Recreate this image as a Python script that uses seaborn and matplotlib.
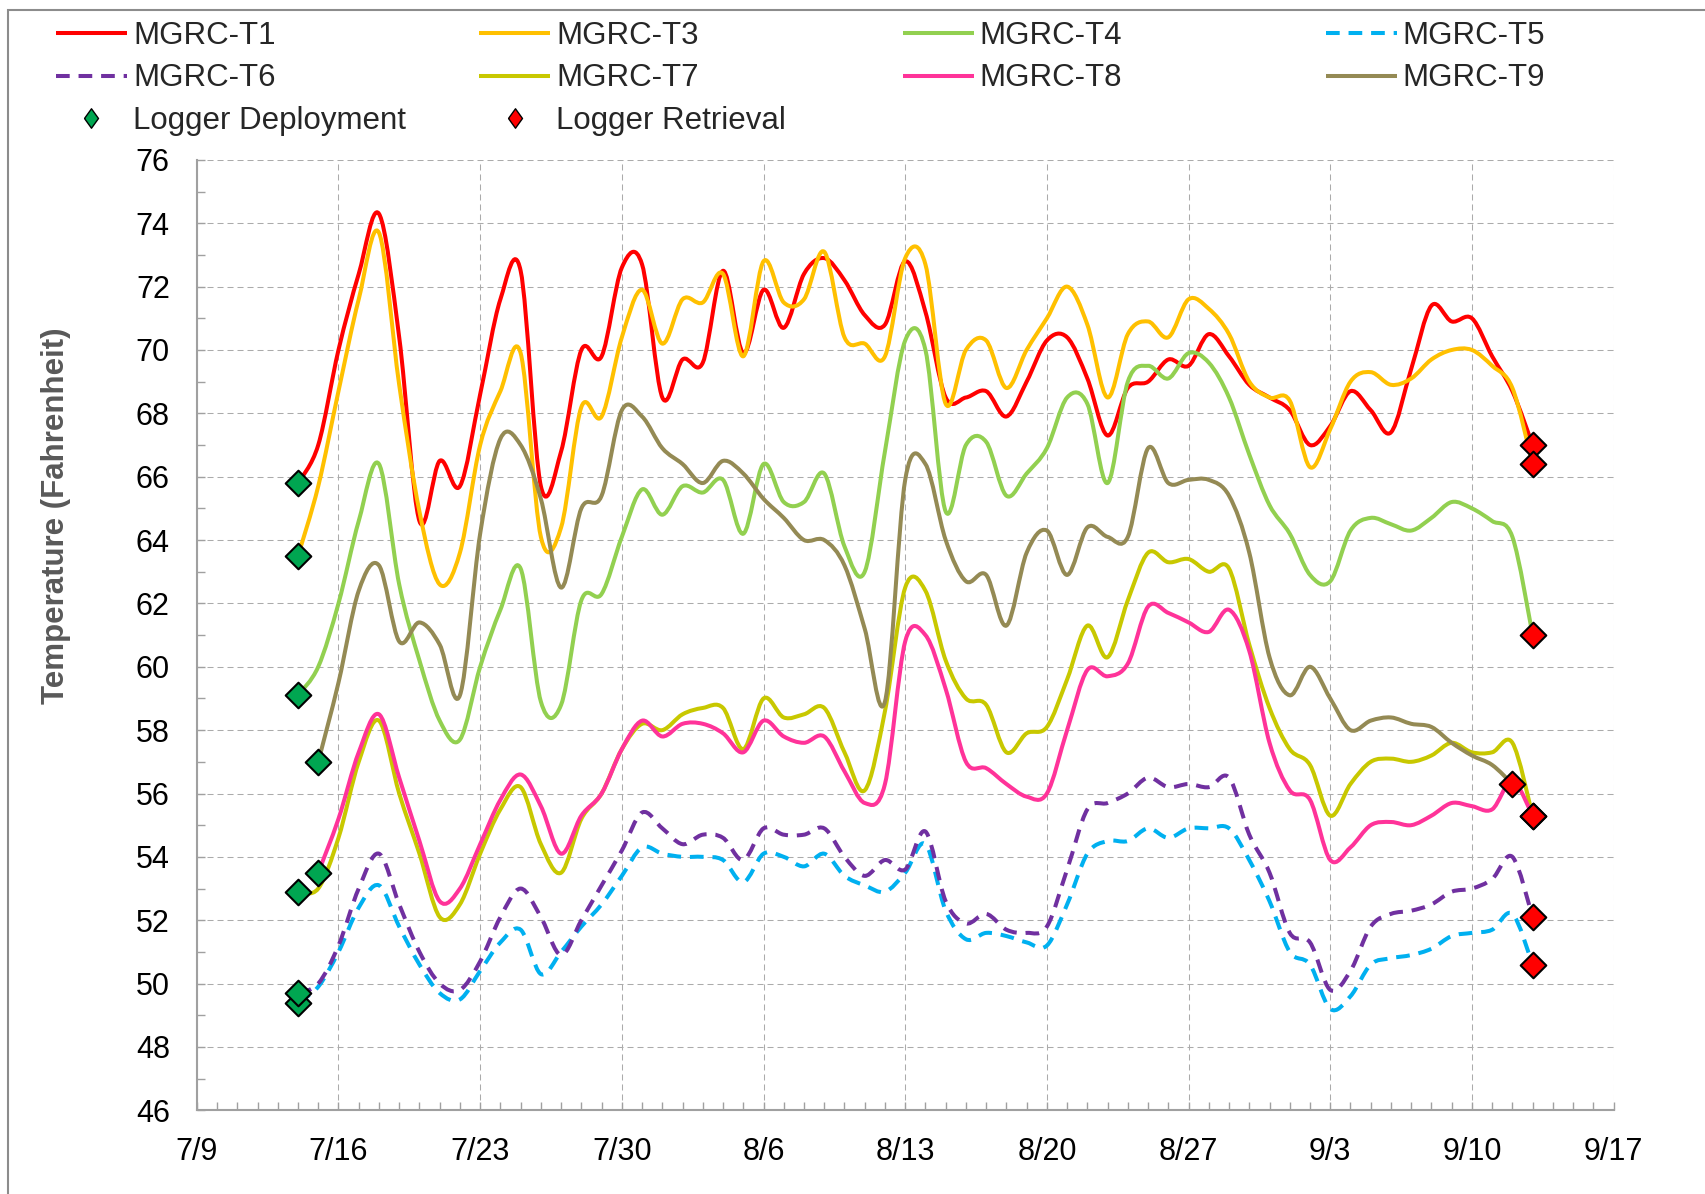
import numpy as np
import pandas as pd
import matplotlib
matplotlib.use("Agg")
import matplotlib.pyplot as plt
import matplotlib.dates as mdates
from matplotlib.path import Path
from matplotlib.patches import PathPatch, Rectangle
from matplotlib.lines import Line2D
from matplotlib.ticker import MultipleLocator
import seaborn as sns

# ---------------- data: daily mean stream temperature (deg F) ----------------
series_names = ["MGRC-T1", "MGRC-T3", "MGRC-T4", "MGRC-T5",
                "MGRC-T6", "MGRC-T7", "MGRC-T8", "MGRC-T9"]
start_dates = ["2019-07-14", "2019-07-14", "2019-07-14", "2019-07-14",
               "2019-07-14", "2019-07-14", "2019-07-15", "2019-07-15"]

t1 = [65.8, 67.0, 70.0, 72.4, 74.3, 70.4, 64.6, 66.5, 65.7, 68.6,
      71.6, 72.5, 65.7, 66.8, 70.0, 69.8, 72.6, 72.7, 68.5, 69.7,
      69.6, 72.5, 69.9, 71.9, 70.7, 72.4, 72.9, 72.2, 71.1, 70.8,
      72.8, 71.2, 68.5, 68.5, 68.7, 67.9, 69.0, 70.3, 70.4, 69.1,
      67.3, 68.8, 69.0, 69.7, 69.5, 70.5, 69.8, 68.9, 68.5, 68.1,
      67.0, 67.6, 68.7, 68.1, 67.4, 69.4, 71.4, 70.9, 71.0, 69.8,
      68.7, 67.0]
t3 = [63.5, 65.7, 68.7, 71.6, 73.7, 68.9, 64.9, 62.6, 63.6, 67.0,
      68.7, 69.9, 64.1, 64.4, 68.2, 67.9, 70.4, 71.9, 70.2, 71.6,
      71.5, 72.4, 69.8, 72.8, 71.5, 71.6, 73.1, 70.4, 70.2, 69.8,
      72.9, 72.7, 68.3, 70.0, 70.3, 68.8, 70.0, 71.0, 72.0, 70.8,
      68.5, 70.5, 70.9, 70.4, 71.6, 71.3, 70.5, 69.0, 68.5, 68.4,
      66.3, 67.5, 69.0, 69.3, 68.9, 69.1, 69.7, 70.0, 70.0, 69.5,
      68.8, 66.4]
t4 = [59.1, 60.0, 62.0, 64.6, 66.4, 62.6, 60.2, 58.3, 57.7, 60.0,
      61.8, 63.1, 58.9, 58.8, 62.1, 62.3, 64.1, 65.6, 64.8, 65.7,
      65.5, 65.9, 64.2, 66.4, 65.2, 65.2, 66.1, 63.8, 63.0, 66.8,
      70.3, 70.0, 64.9, 67.0, 67.1, 65.4, 66.1, 66.9, 68.5, 68.3,
      65.8, 69.0, 69.5, 69.1, 69.9, 69.6, 68.5, 66.7, 65.1, 64.2,
      62.9, 62.7, 64.3, 64.7, 64.5, 64.3, 64.7, 65.2, 65.0, 64.6,
      64.1, 61.0]
t5 = [49.4, 49.9, 51.0, 52.4, 53.1, 51.8, 50.6, 49.7, 49.5, 50.4,
      51.3, 51.7, 50.3, 51.0, 51.8, 52.5, 53.4, 54.3, 54.1, 54.0,
      54.0, 53.9, 53.2, 54.1, 54.0, 53.7, 54.1, 53.4, 53.1, 52.9,
      53.5, 54.4, 52.3, 51.4, 51.6, 51.5, 51.3, 51.2, 52.5, 54.1,
      54.5, 54.5, 54.9, 54.6, 54.9, 54.9, 54.9, 53.9, 52.6, 51.0,
      50.6, 49.2, 49.6, 50.6, 50.8, 50.9, 51.1, 51.5, 51.6, 51.7,
      52.2, 50.6]
t6 = [49.7, 50.0, 51.2, 53.0, 54.1, 52.5, 51.0, 50.0, 49.8, 50.7,
      52.1, 53.0, 52.1, 50.9, 52.0, 53.1, 54.2, 55.4, 54.9, 54.4,
      54.7, 54.6, 53.9, 54.9, 54.7, 54.7, 54.9, 54.0, 53.4, 53.9,
      53.6, 54.8, 52.6, 51.9, 52.2, 51.7, 51.6, 51.8, 53.6, 55.5,
      55.7, 56.0, 56.5, 56.2, 56.3, 56.2, 56.5, 54.7, 53.5, 51.6,
      51.3, 49.8, 50.4, 51.8, 52.2, 52.3, 52.5, 52.9, 53.0, 53.3,
      54.0, 52.1]
t7 = [52.9, 53.0, 54.6, 57.0, 58.3, 56.0, 54.1, 52.1, 52.5, 54.1,
      55.5, 56.2, 54.4, 53.5, 55.2, 56.0, 57.4, 58.2, 58.0, 58.5,
      58.7, 58.7, 57.4, 59.0, 58.4, 58.5, 58.7, 57.3, 56.1, 58.6,
      62.5, 62.4, 60.2, 59.0, 58.8, 57.3, 57.9, 58.1, 59.6, 61.3,
      60.3, 62.1, 63.6, 63.3, 63.4, 63.0, 63.1, 60.7, 58.7, 57.4,
      56.9, 55.3, 56.3, 57.0, 57.1, 57.0, 57.2, 57.6, 57.3, 57.3,
      57.6, 55.3]
t8 = [53.5, 55.2, 57.3, 58.5, 56.5, 54.5, 52.6, 53.0, 54.4,
      55.8, 56.6, 55.6, 54.1, 55.3, 56.0, 57.4, 58.3, 57.8, 58.2,
      58.2, 57.9, 57.3, 58.3, 57.8, 57.6, 57.8, 56.7, 55.7, 56.3,
      60.8, 61.0, 59.3, 57.0, 56.8, 56.3, 55.9, 56.0, 58.0, 59.9,
      59.7, 60.1, 61.9, 61.7, 61.4, 61.1, 61.8, 60.5, 57.6, 56.1,
      55.8, 53.9, 54.3, 55.0, 55.1, 55.0, 55.3, 55.7, 55.6, 55.5,
      56.4, 55.3]
t9 = [57.0, 59.5, 62.4, 63.2, 60.8, 61.4, 60.7, 59.1, 64.2,
      67.2, 67.0, 65.3, 62.5, 65.0, 65.4, 68.1, 67.9, 66.9, 66.4,
      65.8, 66.5, 66.1, 65.3, 64.7, 64.0, 64.0, 63.2, 61.2, 58.9,
      65.9, 66.4, 64.0, 62.7, 62.9, 61.3, 63.6, 64.3, 62.9, 64.4,
      64.1, 64.1, 66.9, 65.8, 65.9, 65.9, 65.4, 63.6, 60.3, 59.1,
      60.0, 59.0, 58.0, 58.3, 58.4, 58.2, 58.1, 57.6, 57.2, 56.9,
      56.3]
series_values = [t1, t3, t4, t5, t6, t7, t8, t9]

x_start, x_end = "2019-07-09", "2019-09-17"
tick_labels = ["7/9", "7/16", "7/23", "7/30", "8/6", "8/13",
               "8/20", "8/27", "9/3", "9/10", "9/17"]

# ---------------- styles ----------------
series_colors = ["#FF0000", "#FFC000", "#92D050", "#00B0F0",
                 "#7030A0", "#C8C800", "#FF3399", "#948A54"]
series_dashed = [False, False, False, True, True, False, False, False]
LW = 2.9
DASH = (0, (3.4, 2.2))
DEPLOY_COLOR = "#00A651"
RETRIEVE_COLOR = "#FF0000"
FS = 22.5
LEGEND_DIAMOND = [(-0.72, 0.0), (0.0, 1.0), (0.72, 0.0), (0.0, -1.0), (-0.72, 0.0)]

sns.set_theme(style="white")
plt.rcParams["font.family"] = ["Liberation Sans", "DejaVu Sans"]

W, H = 1705, 1194
fig = plt.figure(figsize=(W / 100, H / 100), dpi=100)
ax = fig.add_axes([196.8 / W, 1 - 1110.3 / H, 1416.8 / W, 950.4 / H])


def smooth_path(x, y):
    """Bezier path through the points, Excel-style smoothed line."""
    pts = np.column_stack([x, y])
    ext = np.vstack([pts[0], pts, pts[-1]])
    verts = [pts[0]]
    codes = [Path.MOVETO]
    for i in range(len(pts) - 1):
        p0, p1, p2, p3 = ext[i], ext[i + 1], ext[i + 2], ext[i + 3]
        verts += [p1 + (p2 - p0) / 6.0, p2 - (p3 - p1) / 6.0, p2]
        codes += [Path.CURVE4] * 3
    return Path(verts, codes)


first_pts, last_pts = [], []
for name, start, vals, col, dashed in zip(series_names, start_dates, series_values,
                                          series_colors, series_dashed):
    dates = pd.date_range(start, periods=len(vals), freq="D")
    xs = mdates.date2num(dates)
    patch = PathPatch(smooth_path(xs, vals), facecolor="none", edgecolor=col,
                      lw=LW, linestyle=DASH if dashed else "-",
                      capstyle="butt" if dashed else "round", joinstyle="round",
                      zorder=3)
    ax.add_patch(patch)
    first_pts.append((xs[0], vals[0]))
    last_pts.append((xs[-1], vals[-1]))

deploy = pd.DataFrame(first_pts, columns=["x", "temp"])
retrieve = pd.DataFrame(last_pts, columns=["x", "temp"])
sns.scatterplot(data=deploy, x="x", y="temp", marker="D", s=170, color=DEPLOY_COLOR,
                edgecolor="black", linewidth=1.5, zorder=5, ax=ax, legend=False)
sns.scatterplot(data=retrieve, x="x", y="temp", marker="D", s=170, color=RETRIEVE_COLOR,
                edgecolor="black", linewidth=1.5, zorder=5, ax=ax, legend=False)

# ---------------- axes ----------------
ax.set_xlim(mdates.date2num(pd.Timestamp(x_start)), mdates.date2num(pd.Timestamp(x_end)))
ax.set_ylim(46, 76)
major_x = mdates.date2num(pd.date_range(x_start, x_end, freq="7D"))
ax.set_xticks(major_x)
ax.set_xticklabels(tick_labels)
ax.set_xticks(mdates.date2num(pd.date_range(x_start, x_end, freq="D")), minor=True)
ax.yaxis.set_major_locator(MultipleLocator(2))
ax.yaxis.set_minor_locator(MultipleLocator(1))
ax.set_xlabel("")
ax.set_ylabel("")

ax.grid(True, which="major", color="#ABABAB", lw=0.75, linestyle=(0, (5.8, 3.8)))
for side in ("top", "right"):
    ax.spines[side].set_visible(False)
for side in ("left", "bottom"):
    ax.spines[side].set_color("#A0A0A0")
    ax.spines[side].set_linewidth(1.5)
ax.tick_params(which="both", direction="in", color="#A0A0A0", width=1.0, length=6,
               labelsize=22, labelcolor="black")
ax.tick_params(axis="y", which="both", left=True, pad=19.4)
ax.tick_params(axis="x", which="both", bottom=True, pad=19)

fig.text(56 / W, 1 - 515.6 / H, "Temperature (Fahrenheit)", rotation=90,
         ha="center", va="center", fontsize=FS, fontweight="bold", color="#595959")

# ---------------- legend (four columns, row-major order) ----------------
line_handles = [Line2D([], [], color=c, lw=LW, linestyle=DASH if d else "-",
                       dash_capstyle="butt", solid_capstyle="butt")
                for c, d in zip(series_colors, series_dashed)]
deploy_handle = Line2D([], [], ls="none", marker=LEGEND_DIAMOND, ms=14,
                       mfc=DEPLOY_COLOR, mec="black", mew=1.0)
retrieve_handle = Line2D([], [], ls="none", marker=LEGEND_DIAMOND, ms=14,
                         mfc=RETRIEVE_COLOR, mec="black", mew=1.0)
columns = [
    ([line_handles[0], line_handles[4], deploy_handle],
     [series_names[0], series_names[4], "Logger Deployment"]),
    ([line_handles[1], line_handles[5], retrieve_handle],
     [series_names[1], series_names[5], "Logger Retrieval"]),
    ([line_handles[2], line_handles[6]], [series_names[2], series_names[6]]),
    ([line_handles[3], line_handles[7]], [series_names[3], series_names[7]]),
]
for k, (hs, ls) in enumerate(columns):
    fig.legend(hs, ls, loc="upper left",
               bbox_to_anchor=((56 + 423.3 * k) / W, 1 - 21 / H),
               frameon=False, borderpad=0, borderaxespad=0, fontsize=FS,
               handlelength=2.27, handletextpad=0.19, labelspacing=0.40,
               numpoints=1)

# chart-area border
fig.add_artist(Rectangle((8 / W, -0.1), 1.2, 1.1 - 10 / H, transform=fig.transFigure,
                         fill=False, edgecolor="#8C8C8C", lw=1.5))

fig.savefig("out.png", dpi=100)
